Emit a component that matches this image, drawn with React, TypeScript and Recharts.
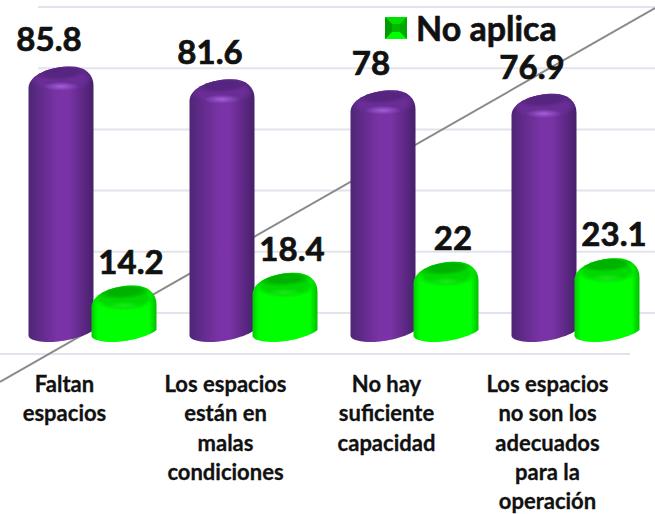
import React from "react";
import {Bar, BarChart, CartesianGrid, LabelList, Legend, XAxis, YAxis} from "recharts";

const categories = [
    ["Faltan", "espacios"],
    ["Los espacios", "están en", "malas", "condiciones"],
    ["No hay", "suficiente", "capacidad"],
    ["Los espacios", "no son los", "adecuados", "para la", "operación"],
];
const aplicaValues = [85.8, 81.6, 78, 76.9];
const noAplicaValues = [14.2, 18.4, 22, 23.1];
const yTicks = [0, 20, 40, 60, 80, 100];

const data = categories.map((lines, i) => ({
    name: lines.join(" "),
    aplica: aplicaValues[i],
    noAplica: noAplicaValues[i],
}));

const FONT = "Lato, sans-serif";
const TEXT_COLOR = "#111111";
const WALL_LEFT = 38;
const GRID_COLOR = "#e1e4ec";
// the 3D look: bars stand in front of the back wall
const DEPTH_X = -26.5;
const DEPTH_Y = 16;

const Cylinder = (props: any) => {
    const {x, y, width, height, tone, index} = props;
    const x0 = x + DEPTH_X;
    const x1 = x0 + width;
    const top = y + DEPTH_Y;
    const base = y + height + DEPTH_Y;
    const cx = x0 + width / 2;
    const clipId = `clip-${tone}-${index}`;
    const path = `M${x0},${top + 21}
        C${x0 + 1},${top + 8} ${x0 + 22},${top} ${x0 + 42},${top}
        C${x1 - 8},${top} ${x1},${top + 8} ${x1},${top + 19}
        L${x1},${base + 1}
        C${x1 - 8},${base + 8} ${x0 + 34},${base + 13} ${x0 + 22},${base + 13}
        C${x0 + 10},${base + 13} ${x0 + 1},${base + 11} ${x0},${base + 7} Z`;
    return (
        <g>
            <clipPath id={clipId}><path d={path}/></clipPath>
            <path d={path} fill={`url(#body-${tone})`}/>
            <g clipPath={`url(#${clipId})`}>
                <ellipse cx={cx} cy={top + 12} rx={width * 0.5} ry={13} fill={`url(#shoulder-${tone})`}/>
                <ellipse cx={cx} cy={top + 6} rx={width * 0.44} ry={7.5} fill={`url(#cap-${tone})`}
                         transform={`rotate(-4 ${cx} ${top + 6})`}/>
                <ellipse cx={cx} cy={top + 20} rx={width * 0.28} ry={4.5} fill={`url(#shine-${tone})`}/>
            </g>
        </g>
    );
};

const renderBarLabel = (shiftX: number, shiftY: number) => (props: any) => {
    const {x, y, width, value} = props;
    return (
        <text x={x + width / 2 + DEPTH_X + shiftX} y={y + shiftY} textAnchor="middle"
              fontFamily={FONT} fontWeight={700} fontSize={33} fill={TEXT_COLOR}
              stroke={TEXT_COLOR} strokeWidth={0.7}>
            {value}
        </text>
    );
};

const CategoryTick = (props: any) => {
    const {x, index} = props;
    const lines = categories[index] || [];
    return (
        <text textAnchor="middle" fontFamily={FONT} fontWeight={700} fontSize={22} fill={TEXT_COLOR}
              stroke={TEXT_COLOR} strokeWidth={0.3}>
            {lines.map((line, i) => <tspan key={i} x={x - 54} y={392 + i * 29.3}>{line}</tspan>)}
        </text>
    );
};

const SideWallTick = (props: any) => {
    const {y} = props;
    return <line x1={WALL_LEFT} y1={y} x2={0} y2={y + 28} stroke={GRID_COLOR} strokeWidth={2}/>;
};

const renderLegend = (props: any) => {
    const items = props.payload || [];
    const entry = items[items.length - 1];
    if (!entry) return null;
    return (
        <div style={{display: "flex", alignItems: "center", fontFamily: FONT, fontWeight: 700, fontSize: 34, color: TEXT_COLOR, lineHeight: "40px", WebkitTextStroke: "0.6px #111111"}}>
            <svg width={22} height={22} style={{marginRight: 9}}>
                <rect width={22} height={22} fill="#00c800"/>
                <polygon points="0,0 22,0 15,7 7,7" fill="#00e000"/>
                <polygon points="0,22 22,22 15,15 7,15" fill="#00ff00"/>
                <polygon points="0,0 7,7 7,15 0,22" fill="#009a00"/>
                <polygon points="22,0 15,7 15,15 22,22" fill="#00a800"/>
                <rect x={7} y={7} width={8} height={8} fill="#00b800"/>
            </svg>
            {entry.value}
        </div>
    );
};

const gradientDefs = (id: string, left: string, mid: string, right: string, from: string, to: string, shoulderColor: string, capColor: string, shineColor: string) => (
    <React.Fragment key={id}>
        <linearGradient id={`body-${id}`} x1="0" y1="0" x2="1" y2="0">
            <stop offset="0%" stopColor={left}/>
            <stop offset={from} stopColor={mid}/>
            <stop offset={to} stopColor={mid}/>
            <stop offset="100%" stopColor={right}/>
        </linearGradient>
        <radialGradient id={`shoulder-${id}`}>
            <stop offset="0%" stopColor={shoulderColor}/>
            <stop offset="70%" stopColor={shoulderColor}/>
            <stop offset="100%" stopColor={shoulderColor} stopOpacity={0}/>
        </radialGradient>
        <radialGradient id={`cap-${id}`}>
            <stop offset="0%" stopColor={capColor}/>
            <stop offset="55%" stopColor={capColor}/>
            <stop offset="100%" stopColor={capColor} stopOpacity={0}/>
        </radialGradient>
        <radialGradient id={`shine-${id}`}>
            <stop offset="0%" stopColor={shineColor}/>
            <stop offset="100%" stopColor={shineColor} stopOpacity={0}/>
        </radialGradient>
    </React.Fragment>
);

export default function App() {
    return (
        <div style={{position: "absolute", left: 0, top: 0, width: 655, height: 514, background: "#ffffff"}}>
            <BarChart width={655} height={514} data={data} barSize={65} barGap={-2}
                      margin={{top: 7, right: -27, bottom: 0, left: WALL_LEFT}}>
                <defs>
                    {gradientDefs("purple", "#4f2677", "#7a33a6", "#47206b", "45%", "62%", "#6a2d96", "#56257f", "#a65fdc")}
                    {gradientDefs("green", "#00cc00", "#00ff00", "#00c000", "10%", "88%", "#00d800", "#00b200", "#18ea18")}
                </defs>
                <CartesianGrid vertical={false} stroke={GRID_COLOR} strokeWidth={2}/>
                <line x1={0} y1={354} x2={630} y2={354} stroke={GRID_COLOR} strokeWidth={2}/>
                <line x1={0} y1={382} x2={655} y2={8} stroke="#8a8a8a" strokeWidth={2}/>
                <XAxis dataKey="name" interval={0} height={201} axisLine={false} tickLine={false} tick={<CategoryTick/>}/>
                <YAxis domain={[0, 100]} ticks={yTicks} width={0} axisLine={false} tickLine={false} tick={<SideWallTick/>}/>
                <Legend verticalAlign="middle" layout="horizontal" content={renderLegend}
                        wrapperStyle={{left: 385, top: 8, width: 200}}/>
                <Bar dataKey="aplica" name="Aplica" legendType="none" isAnimationActive={false}
                     shape={(p: any) => <Cylinder {...p} tone="purple"/>}>
                    <LabelList dataKey="aplica" content={renderBarLabel(-12, 1)}/>
                </Bar>
                <Bar dataKey="noAplica" name="No aplica" fill="#00ff00" isAnimationActive={false}
                     shape={(p: any) => <Cylinder {...p} tone="green"/>}>
                    <LabelList dataKey="noAplica" content={renderBarLabel(7, 4)}/>
                </Bar>
            </BarChart>
        </div>
    );
}
